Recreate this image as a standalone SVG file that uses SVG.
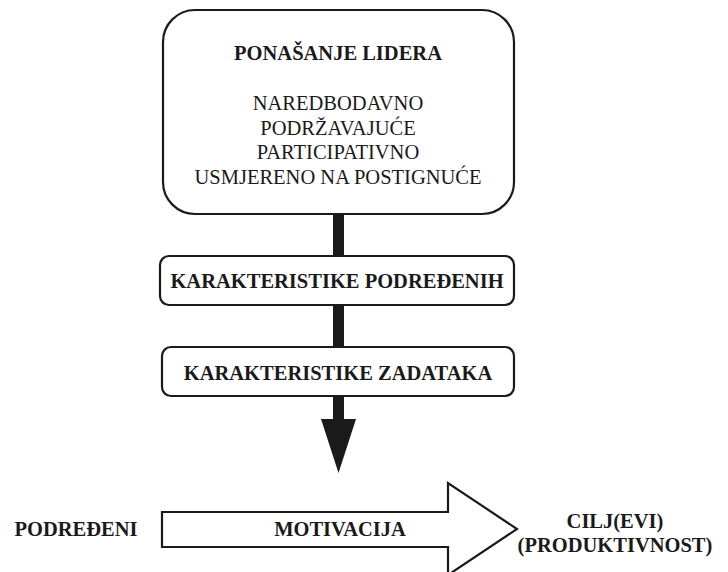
<svg xmlns="http://www.w3.org/2000/svg" width="728" height="572" viewBox="0 0 728 572">
<style>
.box{fill:#fff;stroke:#1a1a1a;stroke-width:2.2}
.t{font-family:"Liberation Serif","Times New Roman",serif;fill:#1a1a1a;text-anchor:middle}
.b{font-weight:bold;font-size:20.5px}
.r{font-size:20.5px}
.bar{fill:#1a1a1a}
</style>
<rect width="728" height="572" fill="#fff"/>
<g id="connectors">
<rect class="bar" x="333" y="214" width="11" height="42"/>
<rect class="bar" x="333" y="305" width="11" height="43"/>
<rect class="bar" x="333" y="396" width="11" height="24"/>
<polygon class="bar" points="321,419 356,419 338.5,473"/>
</g>
<g id="leader">
<rect class="box" x="163" y="10" width="351" height="204" rx="32" ry="32"/>
<text class="t b" x="338" y="60">PONAŠANJE LIDERA</text>
<text class="t r" x="338" y="110">NAREDBODAVNO</text>
<text class="t r" x="338" y="135">PODRŽAVAJUĆE</text>
<text class="t r" x="338" y="159">PARTICIPATIVNO</text>
<text class="t r" x="338" y="184">USMJERENO NA POSTIGNUĆE</text>
</g>
<g id="subordinates">
<rect class="box" x="160" y="256" width="354" height="49" rx="9" ry="9"/>
<text class="t b" x="337" y="288">KARAKTERISTIKE PODREĐENIH</text>
</g>
<g id="tasks">
<rect class="box" x="162" y="347" width="352" height="49" rx="9" ry="9"/>
<text class="t b" x="338" y="380">KARAKTERISTIKE ZADATAKA</text>
</g>
<g id="motivation">
<polygon class="box" points="162,512 448,512 448,483 517,529 448,575 448,547 162,547"/>
<text class="t b" x="340" y="536">MOTIVACIJA</text>
</g>
<g id="podredjeni">
<text class="t b" x="76" y="536">PODREĐENI</text>
</g>
<g id="ciljevi">
<text class="t b" x="615" y="528">CILJ(EVI)</text>
<text class="t b" x="615" y="552">(PRODUKTIVNOST)</text>
</g>
</svg>
